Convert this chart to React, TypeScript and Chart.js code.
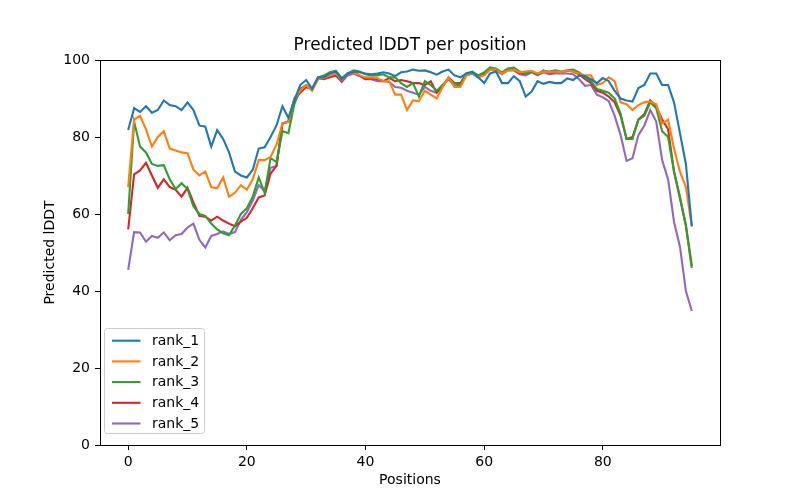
import React, { useEffect, useRef } from "react";
import { Chart, registerables } from "chart.js";

Chart.register(...registerables);

const positions: number[] = Array.from({ length: 96 }, (_, i) => i);

const rank1: number[] = [
  81.8, 87.5, 86.5, 88, 86.3, 87, 89.5, 88.3, 88, 87,
  89, 87, 83, 82.7, 77.5, 81.8, 79.5, 76, 71, 70,
  69.5, 71.5, 77, 77.3, 80, 83, 88, 85, 89.5, 93.5,
  94.8, 92.5, 95.5, 95.5, 96.5, 97, 95, 96.5, 97, 96.8,
  96.5, 96.3, 96.5, 96.8, 96.5, 95.8, 96.8, 97, 97.5, 97.2,
  97.3, 96.8, 96.2, 97, 97.5, 96, 95.5, 96.5, 96.8, 95.5,
  94, 96.5, 97, 94, 94, 95.8, 94.5, 90.5, 91.8, 94.5,
  93.8, 94.3, 94, 94, 95.2, 94.8, 96, 95.8, 95, 94,
  95.3, 94.5, 92, 90, 89.5, 89.2, 92.7, 93.5, 96.5, 96.5,
  93.5, 93.5, 89, 81, 73, 56.8,
];

const rank2: number[] = [
  67, 84.5, 85.5, 82, 77.5, 80, 81.5, 77, 76.5, 76,
  75.8, 71.5, 70, 71, 67, 66.7, 69.5, 64.5, 65.5, 67.5,
  66.3, 69, 74, 74, 74.8, 78, 83.5, 84, 90, 92,
  93.5, 92, 95, 95.3, 96, 96.5, 94.8, 96.5, 96.8, 96,
  95.5, 95.5, 95.3, 94.5, 94.5, 91, 91, 87, 89.5, 89.3,
  92, 91, 90, 93, 95.5, 93, 93, 96, 96.5, 95.5,
  96, 97.5, 97.5, 96.5, 97.3, 97.5, 96.8, 97, 97.2, 96.5,
  97, 96.8, 97, 96.8, 97.3, 97, 96.5, 96, 96, 93.5,
  94, 95.5, 94.5, 89, 88.5, 87, 88.3, 89, 89.2, 88.5,
  83.5, 84.5, 77, 71, 67, 56.8,
];

const rank3: number[] = [
  60, 84, 77.5, 76, 73, 72.5, 72.7, 69, 66.5, 68,
  66.5, 62, 60, 59.5, 57.5, 56, 55, 54.5, 57, 60,
  61.5, 64.5, 69.5, 65.5, 74.5, 73.5, 81.5, 81, 88.5, 92.5,
  93.5, 92.5, 95.5, 96, 96.8, 97.2, 95.3, 96.5, 97.3, 97,
  96.3, 96, 96, 96.3, 95.5, 95.5, 94, 93, 94, 90.5,
  94.5, 93.5, 92, 93.5, 95, 94, 93.5, 96.5, 97, 96,
  96.8, 98, 97.8, 96.8, 97.8, 98, 97, 96.5, 97, 96.3,
  97.2, 97, 97.3, 97, 97.3, 97.5, 96.8, 95.5, 94.5, 92.5,
  92, 91.5, 90, 86, 79.5, 79.5, 84.5, 85.5, 89, 87.5,
  81.5, 80, 71, 64.5, 57, 46,
];

const rank4: number[] = [
  56, 70.3, 71.3, 73.3, 70, 66.8, 69, 67, 66.3, 64.5,
  66.8, 63, 59.5, 59.3, 58.3, 59.3, 58.3, 57.5, 56.8, 58,
  59, 61.5, 64.3, 64.8, 70.5, 72.5, 83.5, 84, 89.5, 91.5,
  93, 92.5, 95.3, 95, 95.5, 96, 94.5, 96.5, 96.8, 96,
  95, 95.3, 95, 94.5, 95.3, 94.5, 94.8, 94.5, 94, 94,
  93.5, 94.5, 91.5, 93, 95.5, 94, 94, 96.5, 96.8, 95.5,
  96.5, 98, 97.5, 96.5, 97.5, 97.5, 96.5, 96.5, 97, 96.3,
  97.3, 96.5, 97, 96.8, 97.2, 97, 96.3, 95, 94, 92,
  91.5, 90.5, 89, 85.5, 79.5, 80, 84.5, 86, 89.5, 88,
  84.5, 82, 71, 64, 57, 46.5,
];

const rank5: number[] = [
  45.5, 55.3, 55.2, 52.8, 54.3, 53.8, 55.2, 53.2, 54.5, 54.8,
  56.5, 57.5, 53.3, 51.3, 54.3, 54.8, 55.5, 54.8, 55.3, 58.5,
  60.5, 63.5, 67.5, 66, 72, 72.5, 83.5, 84, 90, 92.5,
  93, 92.5, 95, 95.3, 95.8, 96, 94.3, 96, 96.5, 95.8,
  95, 95, 94.5, 94.5, 94.3, 93, 92.8, 92, 91.5, 91,
  93, 92, 91.5, 93.5, 95, 93.3, 93.5, 96.2, 96.5, 95.5,
  96.3, 97.5, 97.3, 96.3, 97.3, 97.3, 96.3, 96, 96.8, 96,
  96.8, 96.3, 96.5, 96.5, 96.5, 96.3, 95, 93.3, 93.5, 91,
  90.3, 89.3, 85.5, 80.5, 73.8, 74.5, 80.5, 83, 87, 84,
  74, 69, 58, 51.5, 40, 34.8,
];

const seriesNames: string[] = ["rank_1", "rank_2", "rank_3", "rank_4", "rank_5"];
const seriesColors: string[] = ["#1f77b4", "#ff7f0e", "#2ca02c", "#d62728", "#9467bd"];
const xTicks: number[] = [0, 20, 40, 60, 80];
const yTicks: number[] = [0, 20, 40, 60, 80, 100];
const chartTitle = "Predicted lDDT per position";

const FONT = "'DejaVu Sans', sans-serif";

const framePlugin = {
  id: "frameAndLegend",
  afterDatasetsDraw(chart: any) {
    const { ctx, chartArea } = chart;
    ctx.save();
    ctx.strokeStyle = "#000";
    ctx.lineWidth = 1;
    ctx.strokeRect(
      Math.round(chartArea.left) + 0.5,
      Math.round(chartArea.top) + 0.5,
      Math.round(chartArea.right - chartArea.left),
      Math.round(chartArea.bottom - chartArea.top)
    );
    // title centred over the axes
    ctx.fillStyle = "#000";
    ctx.font = "17px " + FONT;
    ctx.textAlign = "center";
    ctx.textBaseline = "middle";
    ctx.fillText(chartTitle, (chartArea.left + chartArea.right) / 2, 46);
    // legend (lower left, inside axes)
    const bx = 104.5, by = 328.5, bw = 100, bh = 105;
    ctx.beginPath();
    (ctx as any).roundRect(bx, by, bw, bh, 3);
    ctx.fillStyle = "rgba(255,255,255,0.8)";
    ctx.fill();
    ctx.strokeStyle = "#cccccc";
    ctx.stroke();
    ctx.font = "14px " + FONT;
    ctx.textBaseline = "middle";
    ctx.textAlign = "left";
    chart.data.datasets.forEach((ds: any, k: number) => {
      const y = 340.7 + k * 20.7;
      ctx.beginPath();
      ctx.strokeStyle = ds.borderColor;
      ctx.lineWidth = 2.1;
      ctx.moveTo(112, y);
      ctx.lineTo(140.5, y);
      ctx.stroke();
      ctx.fillStyle = "#000";
      ctx.fillText(ds.label, 152, y + 0.5);
    });
    ctx.restore();
  },
};

export default function App() {
  const ref = useRef<HTMLCanvasElement>(null);
  useEffect(() => {
    if (!ref.current) return;
    const all = [rank1, rank2, rank3, rank4, rank5];
    const chart = new Chart(ref.current, {
      type: "line",
      data: {
        datasets: all.map((vals, k) => ({
          label: seriesNames[k],
          data: vals.map((v, i) => ({ x: positions[i], y: v })),
          borderColor: seriesColors[k],
          backgroundColor: seriesColors[k],
          borderWidth: 2.1,
          pointRadius: 0,
          tension: 0,
          fill: false,
        })),
      },
      options: {
        animation: false,
        responsive: false,
        devicePixelRatio: 1,
        layout: { padding: { left: 0, right: 80, top: 60, bottom: 0 } },
        plugins: {
          legend: { display: false },
          tooltip: { enabled: false },
          title: { display: false },
        },
        scales: {
          x: {
            type: "linear",
            min: -4.75,
            max: 99.75,
            afterFit(scale: any) {
              scale.height = 55;
            },
            afterBuildTicks(scale: any) {
              scale.ticks = xTicks.map((v) => ({ value: v }));
            },
            grid: {
              display: true,
              drawOnChartArea: false,
              drawTicks: true,
              tickLength: 5,
              color: "#000",
            },
            border: { display: true, color: "#000" },
            ticks: {
              color: "#000",
              font: { family: FONT, size: 14 },
              padding: 4,
              maxRotation: 0,
              autoSkip: false,
            },
            title: {
              display: true,
              text: "Positions",
              color: "#000",
              font: { family: FONT, size: 14, lineHeight: 1.2 },
              padding: { top: 0, bottom: 11 },
            },
          },
          y: {
            type: "linear",
            min: 0,
            max: 100,
            afterFit(scale: any) {
              scale.width = 100;
            },
            afterBuildTicks(scale: any) {
              scale.ticks = yTicks.map((v) => ({ value: v }));
            },
            grid: {
              display: true,
              drawOnChartArea: false,
              drawTicks: true,
              tickLength: 5,
              color: "#000",
            },
            border: { display: true, color: "#000" },
            ticks: {
              color: "#000",
              font: { family: FONT, size: 14 },
              padding: 5,
              autoSkip: false,
            },
            title: {
              display: true,
              text: "Predicted lDDT",
              color: "#000",
              font: { family: FONT, size: 14, lineHeight: 1.2 },
              padding: { top: 42, bottom: 0 },
            },
          },
        },
      },
      plugins: [framePlugin],
    });
    return () => chart.destroy();
  }, []);
  return (
    <div style={{ position: "fixed", left: 0, top: 0, width: 800, height: 500, background: "#fff" }}>
      <canvas ref={ref} width={800} height={500} style={{ width: 800, height: 500 }} />
    </div>
  );
}
